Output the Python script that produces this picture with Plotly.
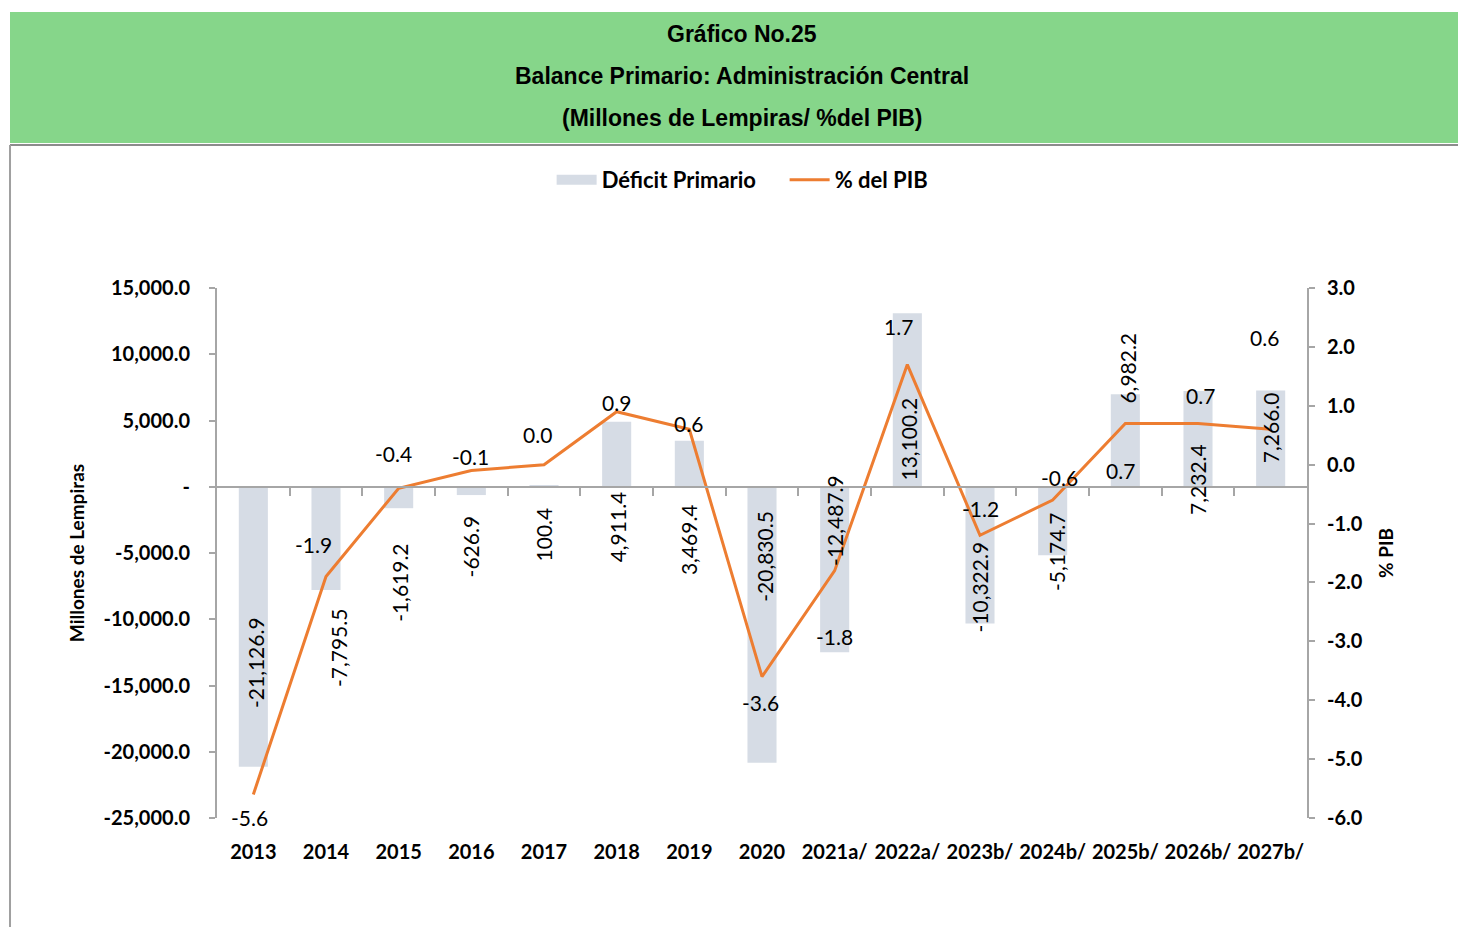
import plotly.graph_objects as go

categories = ["2013", "2014", "2015", "2016", "2017", "2018", "2019", "2020",
              "2021a/", "2022a/", "2023b/", "2024b/", "2025b/", "2026b/", "2027b/"]
deficit = [-21126.9, -7795.5, -1619.2, -626.9, 100.4, 4911.4, 3469.4, -20830.5,
           -12487.9, 13100.2, -10322.9, -5174.7, 6982.2, 7232.4, 7266.0]
pib = [-5.6, -1.9, -0.4, -0.1, 0.0, 0.9, 0.6, -3.6, -1.8, 1.7, -1.2, -0.6, 0.7, 0.7, 0.6]

left_ticks = [15000, 10000, 5000, 0, -5000, -10000, -15000, -20000, -25000]
left_ticktext = ["15,000.0", "10,000.0", "5,000.0", "-", "-5,000.0", "-10,000.0",
                 "-15,000.0", "-20,000.0", "-25,000.0"]
right_ticks = [3, 2, 1, 0, -1, -2, -3, -4, -5, -6]

title_lines = ["Gráfico No.25", "Balance Primario: Administración Central",
               "(Millones de Lempiras/ %del PIB)"]

# label offsets (pixels) - styling only
bar_lbl_dx = [2, 12, 1, -1, -1, 1, -1, 3, 0, 1, 0, 4, 2, 0, 0]
bar_lbl_dy = [104, -58, -75, -52, -49, -105, -99, 206, 132, -126, 36, 3, 26, -89, -37]
pib_lbl_dx = [-4, -13, -5, -1, -7, 0, -1, -2, 0, -9, 0, 7, -5, 2, -6]
pib_lbl_dy = [-23, 32, 35, 14, 30, 9, 6, -26, -66, 38, 27, 23, -47, 28, 92]

FONT = "Lato, 'Open Sans', sans-serif"
TITLE_FONT = "'Liberation Sans', Arial, sans-serif"
AXIS_GRAY = "#A6A6A6"
BAR_COLOR = "#D6DCE5"
LINE_COLOR = "#ED7D31"

fig = go.Figure()
fig.add_trace(go.Bar(x=categories, y=deficit, name="Déficit Primario",
                     marker=dict(color=BAR_COLOR, line=dict(width=0)), width=0.4,
                     yaxis="y", xaxis="x", showlegend=False))
# legend swatch for the bars (wide rectangle like the original)
fig.add_trace(go.Scatter(x=[categories[0]], y=[None], name="Déficit Primario", mode="lines",
                         line=dict(color=BAR_COLOR, width=13), yaxis="y", xaxis="x",
                         hoverinfo="skip"))
fig.add_trace(go.Scatter(x=categories, y=pib, name="% del PIB", mode="lines",
                         line=dict(color=LINE_COLOR, width=3), yaxis="y2", xaxis="x"))
# helper trace for the zero-line category axis
fig.add_trace(go.Scatter(x=[0], y=[0], xaxis="x3", yaxis="y", mode="markers",
                         marker=dict(opacity=0), showlegend=False, hoverinfo="skip"))

annotations = []
for i, v in enumerate(deficit):
    annotations.append(dict(x=i, y=v, xref="x", yref="y", text=f"{v:,.1f}",
                            showarrow=False, textangle=-90, xanchor="center",
                            yanchor="middle", xshift=bar_lbl_dx[i], yshift=bar_lbl_dy[i],
                            font=dict(family=FONT, size=21, color="#000000")))
for i, v in enumerate(pib):
    annotations.append(dict(x=i, y=v, xref="x", yref="y2", text=f"{v:.1f}",
                            showarrow=False, xanchor="center", yanchor="middle",
                            xshift=pib_lbl_dx[i], yshift=pib_lbl_dy[i],
                            font=dict(family=FONT, size=21, color="#000000")))
title_y = [1.479, 1.400, 1.321]
for t, yy in zip(title_lines, title_y):
    annotations.append(dict(x=0.4817, y=yy, xref="paper", yref="paper", text=t,
                            showarrow=False, xanchor="center", yanchor="middle",
                            font=dict(family=TITLE_FONT, size=23, color="#000000",
                                      weight="bold")))

shapes = [
    dict(type="rect", xref="paper", yref="paper", x0=-0.1899, x1=1.2, y0=1.2736, y1=1.5208,
         fillcolor="#86D68A", line=dict(width=0), layer="below"),
    dict(type="line", xref="paper", yref="paper", x0=-0.1899, x1=1.2, y0=1.2698, y1=1.2698,
         line=dict(color="#8C8C8C", width=2)),
    dict(type="line", xref="paper", yref="paper", x0=-0.1899, x1=-0.1899, y0=1.2698, y1=-0.25,
         line=dict(color="#A0A0A0", width=2)),
]

fig.update_layout(
    width=1450, height=919,
    margin=dict(l=209, r=151, t=280, b=109, autoexpand=False),
    paper_bgcolor="white", plot_bgcolor="white",
    showlegend=True,
    legend=dict(orientation="h", x=0.307, y=1.204, xanchor="left", yanchor="middle",
                font=dict(family=FONT, size=22, color="#000000", weight="bold"),
                bgcolor="rgba(0,0,0,0)", itemwidth=40, tracegroupgap=0,
                entrywidth=178, entrywidthmode="pixels"),
    xaxis=dict(type="category", categoryorder="array", categoryarray=categories,
               range=[-0.5, len(categories) - 0.5], showline=False, ticks="",
               showgrid=False, zeroline=False, ticklabelstandoff=20,
               tickfont=dict(family=FONT, size=20, color="#000000", weight="bold")),
    xaxis3=dict(overlaying="x", anchor="free", position=0.625,
                range=[-0.5, len(categories) - 0.5], showline=True, linecolor=AXIS_GRAY,
                linewidth=2, ticks="outside", ticklen=8, tickcolor=AXIS_GRAY, tickwidth=2,
                tickvals=[i + 0.5 for i in range(len(categories) - 1)],
                showticklabels=False, showgrid=False, zeroline=False),
    yaxis=dict(range=[-25000, 15000], tickvals=left_ticks, ticktext=left_ticktext,
               showline=True, linecolor=AXIS_GRAY, linewidth=2, ticks="outside",
               ticklen=6, tickcolor=AXIS_GRAY, tickwidth=2, showgrid=False, zeroline=False,
               ticklabelstandoff=15,
               tickfont=dict(family=FONT, size=20, color="#000000", weight="bold"),
               title=dict(text="Millones de Lempiras", standoff=14,
                          font=dict(family=FONT, size=19, color="#000000", weight="bold"))),
    yaxis2=dict(range=[-6, 3], overlaying="y", side="right", tickvals=right_ticks,
                ticktext=[f"{t:.1f}" for t in right_ticks],
                showline=True, linecolor=AXIS_GRAY, linewidth=2, ticks="outside",
                ticklen=6, tickcolor=AXIS_GRAY, tickwidth=2, showgrid=False, zeroline=False,
                ticklabelstandoff=8,
                tickfont=dict(family=FONT, size=20, color="#000000", weight="bold"),
                title=dict(text="% PIB", standoff=18,
                           font=dict(family=FONT, size=19, color="#000000", weight="bold"))),
    annotations=annotations,
    shapes=shapes,
)

fig.write_html("out.html")
